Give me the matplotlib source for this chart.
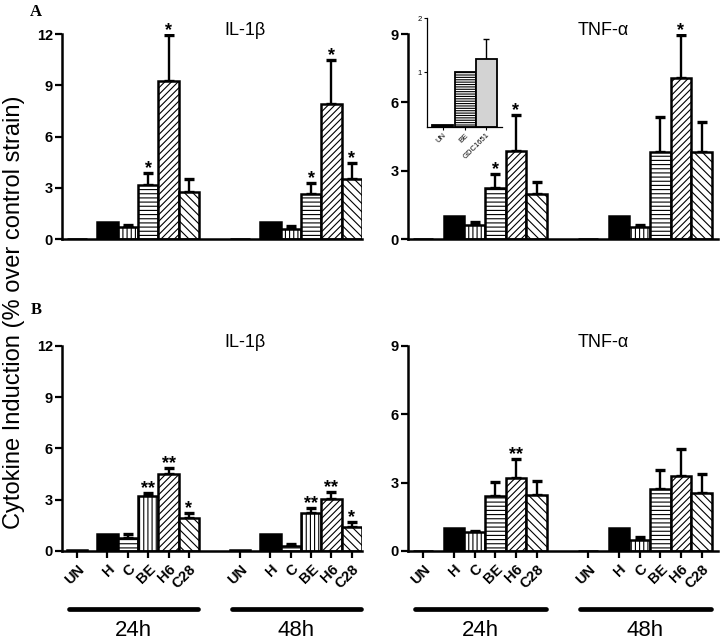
import numpy as np
import matplotlib
matplotlib.use("Agg")
import matplotlib.pyplot as plt

plt.rcParams['font.family'] = ['Liberation Sans', 'DejaVu Sans']
plt.rcParams['hatch.linewidth'] = 0.8

cats = ["UN", "H", "C", "BE", "H6", "C28"]
groups = ["24h", "48h"]

# panel A, IL-1b
a_il_24 = [0, 1.0, 0.68, 3.14, 9.27, 2.75]
a_il_24_err = [0, 0, 0.16, 0.72, 2.69, 0.76]
a_il_48 = [0, 1.0, 0.60, 2.63, 7.90, 3.53]
a_il_48_err = [0, 0, 0.14, 0.65, 2.60, 0.92]
a_il_24_sig = ["", "", "", "*", "*", ""]
a_il_48_sig = ["", "", "", "*", "*", "*"]

# panel A, TNF-a
a_tnf_24 = [0.02, 0.99, 0.63, 2.26, 3.87, 1.97]
a_tnf_24_err = [0, 0, 0.11, 0.59, 1.56, 0.55]
a_tnf_48 = [0.02, 0.99, 0.52, 3.83, 7.06, 3.83]
a_tnf_48_err = [0, 0, 0.08, 1.53, 1.90, 1.31]
a_tnf_24_sig = ["", "", "", "*", "*", ""]
a_tnf_48_sig = ["", "", "", "", "*", ""]

# panel B, IL-1b
b_il_24 = [0.08, 0.99, 0.78, 3.23, 4.50, 1.91]
b_il_24_err = [0, 0, 0.21, 0.18, 0.37, 0.33]
b_il_48 = [0.03, 0.99, 0.30, 2.24, 3.04, 1.42]
b_il_48_err = [0, 0, 0.12, 0.29, 0.41, 0.29]
b_il_24_sig = ["", "", "", "**", "**", "*"]
b_il_48_sig = ["", "", "", "**", "**", "*"]

# panel B, TNF-a
b_tnf_24 = [0, 0.99, 0.85, 2.43, 3.21, 2.48]
b_tnf_24_err = [0, 0, 0.02, 0.61, 0.81, 0.59]
b_tnf_48 = [0, 0.99, 0.48, 2.70, 3.29, 2.56]
b_tnf_48_err = [0, 0, 0.12, 0.85, 1.17, 0.84]
b_tnf_24_sig = ["", "", "", "", "**", ""]
b_tnf_48_sig = ["", "", "", "", "", ""]

# inset (TNF-a)
inset_cats = ["UN", "BE", "GDC1651"]
inset_vals = [0.04, 1.0, 1.24]
inset_err = [0, 0, 0.38]

pos = np.array([0, 1.5, 2.5, 3.5, 4.5, 5.5])
offset = 8.0

hatch_std = [None, None, "||||", "----", "/////", "\\\\\\\\"]
hatch_swap = [None, None, "----", "||||", "/////", "\\\\\\\\"]
fills = ["white", "black", "white", "white", "white", "white"]

fig = plt.figure(figsize=(7.2, 6.43), dpi=100)


def panel(rect, xmax, ymax, yticks, d24, e24, s24, d48, e48, s48, hatches, title, title_x, bottom):
    ax = fig.add_axes(rect)
    for k, (d, e, s) in enumerate([(d24, e24, s24), (d48, e48, s48)]):
        x = pos + k * offset
        ax.bar(x, d, width=1.0, color=fills, edgecolor="black", linewidth=1.8,
               hatch=hatches, zorder=2)
        d = np.array(d)
        e = np.array(e)
        m = e > 0
        ax.errorbar(x[m], d[m], yerr=[np.zeros(m.sum()), e[m]], fmt="none",
                    ecolor="black", elinewidth=1.7, capsize=3.6, capthick=2.4, zorder=1)
        for xi, top, s in zip(x, d + e, s):
            if s:
                ax.annotate(s, (xi, top), xytext=(0, -3), textcoords="offset points",
                            ha="center", va="bottom", fontsize=13, fontweight="bold",
                            annotation_clip=False)
    ax.set_xlim(-0.73, xmax)
    ax.set_ylim(0, ymax)
    ax.set_yticks(yticks)
    ax.set_yticklabels([str(t) for t in yticks], fontweight="bold", fontsize=10.5)
    for sp in ["top", "right"]:
        ax.spines[sp].set_visible(False)
    for sp in ["left", "bottom"]:
        ax.spines[sp].set_linewidth(1.8)
    ax.tick_params(axis="y", direction="out", length=5, width=1.6, pad=1.5)
    ax.text(title_x, 1.015, title, transform=ax.transAxes, ha="center", va="center",
            fontsize=13)
    if bottom:
        xt = np.concatenate([pos, pos + offset])
        ax.set_xticks(xt)
        ax.set_xticklabels(cats + cats, rotation=45, ha="right", va="top",
                           rotation_mode="anchor", fontweight="bold", fontsize=10.5)
        ax.tick_params(axis="x", direction="out", length=5, width=1.6, pad=3)
        for k, g in enumerate(groups):
            x0 = pos[0] - 0.4 + k * offset
            x1 = pos[-1] + 0.45 + k * offset
            tr = ax.get_xaxis_transform()
            ax.plot([x0, x1], [-0.285, -0.285], transform=tr, color="black", lw=3.4,
                    solid_capstyle="round", clip_on=False)
            ax.text((x0 + x1) / 2, -0.39, g, transform=tr, ha="center", va="center",
                    fontsize=16)
    else:
        ax.set_xticks([])
    return ax


panel([0.0861, 0.6283, 0.4167, 0.3188], 14.0, 12, [0, 3, 6, 9, 12],
      a_il_24, a_il_24_err, a_il_24_sig, a_il_48, a_il_48_err, a_il_48_sig,
      hatch_std, "IL-1β", 0.61, False)
panel([0.5667, 0.6283, 0.4306, 0.3188], 14.3, 9, [0, 3, 6, 9],
      a_tnf_24, a_tnf_24_err, a_tnf_24_sig, a_tnf_48, a_tnf_48_err, a_tnf_48_sig,
      hatch_std, "TNF-α", 0.63, False)
panel([0.0861, 0.1431, 0.4167, 0.3188], 14.0, 12, [0, 3, 6, 9, 12],
      b_il_24, b_il_24_err, b_il_24_sig, b_il_48, b_il_48_err, b_il_48_sig,
      hatch_swap, "IL-1β", 0.61, True)
panel([0.5667, 0.1431, 0.4306, 0.3188], 14.3, 9, [0, 3, 6, 9],
      b_tnf_24, b_tnf_24_err, b_tnf_24_sig, b_tnf_48, b_tnf_48_err, b_tnf_48_sig,
      hatch_std, "TNF-α", 0.63, True)

# inset
axi = fig.add_axes([0.593, 0.8025, 0.104, 0.1695])
ix = np.array([0, 1.05, 2.05])
axi.bar(ix, inset_vals, width=1.0, color=["black", "white", "#d3d3d3"],
        edgecolor="black", linewidth=1.3, hatch=[None, "-------", None], zorder=2)
axi.errorbar(ix[2:], inset_vals[2:], yerr=[[0], inset_err[2:]], fmt="none",
             ecolor="black", elinewidth=1.0, capsize=2.5, capthick=1.0, zorder=1)
axi.set_xlim(-0.76, 2.8)
axi.set_ylim(0, 2)
axi.set_yticks([1, 2])
axi.set_yticklabels(["1", "2"], fontsize=5.5)
axi.set_xticks(ix)
axi.set_xticklabels(inset_cats, rotation=45, ha="right", va="top",
                    rotation_mode="anchor", fontsize=5.5)
for sp in ["top", "right"]:
    axi.spines[sp].set_visible(False)
for sp in ["left", "bottom"]:
    axi.spines[sp].set_linewidth(0.9)
axi.tick_params(direction="out", length=2.5, width=0.8, pad=1)

fig.text(0.05, 0.981, "A", family="Liberation Serif", fontweight="bold",
         fontsize=12, ha="center", va="center")
fig.text(0.05, 0.518, "B", family="Liberation Serif", fontweight="bold",
         fontsize=12, ha="center", va="center")
fig.text(0.0194, 1 - 312 / 643, "Cytokine Induction (% over control strain)",
         rotation=90, ha="center", va="center", fontsize=17)

fig.savefig("out.png", dpi=100)
